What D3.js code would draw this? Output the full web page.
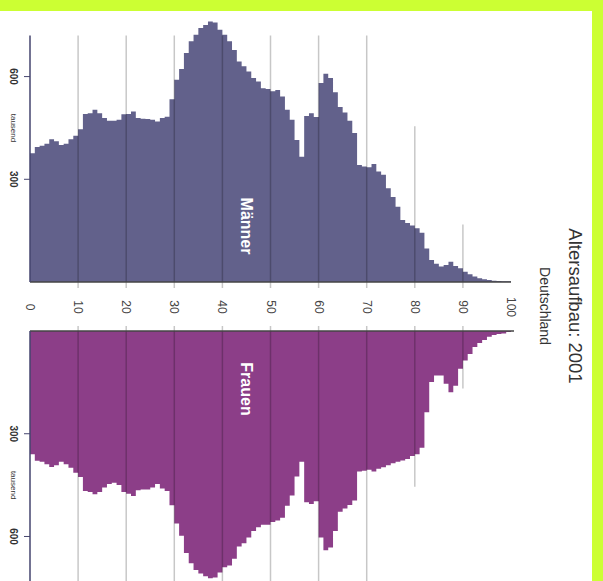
<!DOCTYPE html>
<html>
<head>
<meta charset="utf-8">
<script src="https://cdn.jsdelivr.net/npm/d3@7"></script>
<style>
html,body{margin:0;padding:0;background:#fff;}
svg{display:block;font-family:"Liberation Sans",Arial,sans-serif;}
</style>
</head>
<body>
<svg id="chart" width="603" height="581"></svg>
<script>
// ---- data (thousands, by single year of age 0..99) ----
const title = "Altersaufbau: 2001";
const subtitle = "Deutschland";
const seriesNames = ["Männer", "Frauen"];
const unitLabel = "tausend";
const ageTicks = [0, 10, 20, 30, 40, 50, 60, 70, 80, 90, 100];
const valueTicks = [300, 600];
const gridAges = [10, 20, 30, 40, 50, 60, 70, 80, 90];
const gridMax = [720, 720, 720, 720, 720, 720, 720, 455, 168];

const men = [
  376, 394, 398, 404, 417, 411, 400, 404, 417, 427,
  446, 491, 493, 503, 493, 479, 471, 471, 474, 490,
  491, 498, 479, 477, 476, 474, 469, 479, 483, 534,
  591, 622, 669, 703, 722, 742, 751, 761, 758, 737,
  722, 703, 678, 644, 630, 615, 596, 586, 566, 564,
  557, 561, 542, 503, 474, 415, 366, 485, 493, 482,
  581, 608, 596, 554, 511, 495, 471, 435, 342, 337,
  335, 345, 323, 313, 274, 248, 220, 181, 172, 165,
  157, 144, 98, 64, 53, 45, 50, 59, 47, 40,
  30, 23, 16, 11, 8, 6, 4, 3, 2, 2
];
const women = [
  360, 379, 382, 389, 397, 392, 382, 389, 399, 414,
  426, 467, 470, 477, 470, 457, 447, 443, 450, 470,
  475, 482, 465, 463, 463, 457, 447, 460, 467, 509,
  562, 598, 648, 678, 698, 708, 716, 722, 720, 705,
  690, 685, 665, 629, 620, 603, 584, 573, 566, 566,
  558, 553, 545, 510, 480, 425, 382, 500, 505, 497,
  603, 640, 632, 584, 528, 518, 508, 495, 410, 408,
  405, 410, 402, 398, 392, 386, 382, 378, 374, 365,
  360, 341, 237, 149, 130, 130, 154, 179, 160, 110,
  86, 67, 47, 35, 26, 17, 12, 9, 7, 3
];

// ---- layout ----
const W = 603, H = 581;
const svg = d3.select("#chart");

svg.append("rect").attr("x", 0).attr("y", 0).attr("width", W).attr("height", H).attr("fill", "#fff");

const xAge = d3.scaleLinear().domain([0, 100]).range([30, 511]);
const yM = d3.scaleLinear().domain([0, 720]).range([282, 35.5]);
const yF = d3.scaleLinear().domain([0, 730]).range([331, 581]);

const menColor = "#62618b";
const womenColor = "#8c3e88";
const axisColor = "#45456e";

function stepData(arr) {
  const d = arr.map((v, i) => ({age: i, v: v}));
  d.push({age: arr.length, v: arr[arr.length - 1]});
  return d;
}

// bars as step areas
svg.append("path")
  .datum(stepData(men))
  .attr("fill", menColor)
  .attr("d", d3.area().curve(d3.curveStepAfter)
    .x(d => xAge(d.age)).y0(yM(0)).y1(d => yM(d.v)));

svg.append("path")
  .datum(stepData(women))
  .attr("fill", womenColor)
  .attr("d", d3.area().curve(d3.curveStepAfter)
    .x(d => xAge(d.age)).y0(yF(0)).y1(d => yF(d.v)));

// gridlines (drawn on top, translucent)
const grid = svg.append("g").attr("stroke", "rgba(0,0,0,0.22)").attr("stroke-width", 1.5);
gridAges.forEach((a, i) => {
  grid.append("line")
    .attr("x1", xAge(a)).attr("x2", xAge(a))
    .attr("y1", yM(gridMax[i])).attr("y2", yM(0) + 6);
  grid.append("line")
    .attr("x1", xAge(a)).attr("x2", xAge(a))
    .attr("y1", yF(0) - 5).attr("y2", i < 7 ? H : yF(gridMax[i]));
});

// baselines
svg.append("line").attr("x1", xAge(0)).attr("x2", xAge(100))
  .attr("y1", yM(0)).attr("y2", yM(0)).attr("stroke", "#444").attr("stroke-width", 1.5);
svg.append("line").attr("x1", xAge(0)).attr("x2", xAge(100) + 3)
  .attr("y1", yF(0)).attr("y2", yF(0)).attr("stroke", "#444").attr("stroke-width", 1.5);

// value axes (vertical line at age 0)
svg.append("line").attr("x1", xAge(0)).attr("x2", xAge(0))
  .attr("y1", yM(720)).attr("y2", yM(0)).attr("stroke", axisColor).attr("stroke-width", 1.5);
svg.append("line").attr("x1", xAge(0)).attr("x2", xAge(0))
  .attr("y1", yF(0)).attr("y2", H).attr("stroke", axisColor).attr("stroke-width", 1.5);

function rotText(g, x, y, txt, size, weight, fill) {
  return g.append("text")
    .attr("transform", `translate(${x},${y}) rotate(90)`)
    .attr("text-anchor", "middle")
    .attr("dominant-baseline", "central")
    .attr("font-size", size)
    .attr("font-weight", weight || "normal")
    .attr("fill", fill || "#333")
    .text(txt);
}

// value ticks & labels
valueTicks.forEach(v => {
  [yM, yF].forEach(s => {
    svg.append("line").attr("x1", xAge(0) - 6).attr("x2", xAge(0))
      .attr("y1", s(v)).attr("y2", s(v)).attr("stroke", axisColor).attr("stroke-width", 1);
    rotText(svg, 13, s(v), String(v), 10, "bold", "#333");
  });
});
rotText(svg, 13, yM(450), unitLabel, 8, "normal", "#333");
rotText(svg, 13, yF(450), unitLabel, 8, "normal", "#333");

// age labels
ageTicks.forEach(a => {
  rotText(svg, xAge(a), 307, String(a), 12, "normal", "#444");
});

// series labels
rotText(svg, 246, 226, seriesNames[0], 16, "bold", "#fff");
rotText(svg, 246, 389, seriesNames[1], 16, "bold", "#fff");

// title & subtitle
rotText(svg, 575, 306, title, 18.5, "normal", "#333");
rotText(svg, 545, 306, subtitle, 14, "normal", "#333");

// lime frame
svg.append("rect").attr("x", 0).attr("y", 0).attr("width", W).attr("height", 11).attr("fill", "#ccff33");
svg.append("rect").attr("x", 592).attr("y", 0).attr("width", 11).attr("height", H).attr("fill", "#ccff33");
</script>
</body>
</html>
